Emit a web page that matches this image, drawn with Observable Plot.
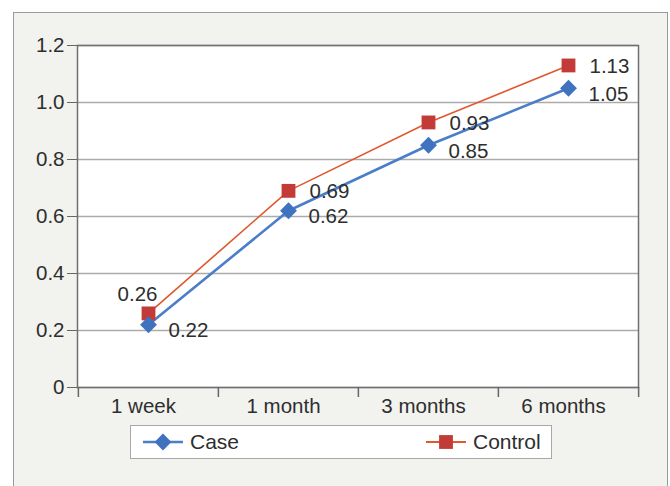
<!DOCTYPE html>
<html><head><meta charset="utf-8">
<script src="https://cdn.jsdelivr.net/npm/d3@7"></script>
<script src="https://cdn.jsdelivr.net/npm/@observablehq/plot@0.6"></script>
<style>
html,body{margin:0;padding:0;background:#fff;}
#wrap{position:relative;width:670px;height:486px;overflow:hidden;font-family:"Liberation Sans",Arial,sans-serif;}
#frame{position:absolute;left:13px;top:12px;width:655px;height:490px;background:#f2f2ef;border:1.5px solid #9a9a9a;box-sizing:border-box;}
#chart{position:absolute;left:0;top:0;}
#legend{position:absolute;left:130px;top:425px;width:422px;height:34px;background:#fff;border:1.5px solid #a8a8a8;box-sizing:border-box;}
#legend svg{position:absolute;left:0;top:0;}
</style>
</head><body>
<div id="wrap"><div id="frame"></div><div id="chart"></div><div id="legend"></div></div>
<script>
const categories = ["1 week", "1 month", "3 months", "6 months"];
const caseValues = [0.22, 0.62, 0.85, 1.05];
const controlValues = [0.26, 0.69, 0.93, 1.13];
const yTicks = [0, 0.2, 0.4, 0.6, 0.8, 1.0, 1.2];
const seriesNames = ["Case", "Control"];

const caseColor = "#3f73c0", caseLine = "#4a7ec8";
const controlColor = "#c23b36", controlLine = "#e0582e";
const textColor = "#2e2e2e";
const fs = 20.5;

const caseData = categories.map((c, i) => ({cat: c, value: caseValues[i], i}));
const controlData = categories.map((c, i) => ({cat: c, value: controlValues[i], i}));

const W = 670, H = 420, mL = 77, mR = 32, mT = 45, mB = 33;
const step = (W - mL - mR) / categories.length;
const fmt = d => d.toFixed(2);

const chart = Plot.plot({
  width: W, height: H, marginLeft: mL, marginRight: mR, marginTop: mT, marginBottom: mB,
  style: {background: "transparent", fontFamily: "'Liberation Sans', Arial, sans-serif", fontSize: fs + "px", color: textColor},
  x: {type: "point", domain: categories, padding: 0.5, label: null},
  y: {domain: [0, 1.2], label: null},
  marks: [
    Plot.frame({fill: "white", stroke: "none"}),
    Plot.gridY(yTicks, {stroke: "#ababab", strokeOpacity: 1, strokeWidth: 1.4}),
    Plot.frame({stroke: "#707070", strokeWidth: 1.5}),
    Plot.axisY({ticks: yTicks, label: null, tickSize: 10, tickPadding: 3, stroke: "#666", tickFormat: d => d === 0 ? "0" : d.toFixed(1), fill: textColor}),
    Plot.axisX({label: null, tickSize: 0, tickPadding: 11, fill: textColor, dx: -5}),
    Plot.axisX({label: null, tickSize: 10, stroke: "#666", strokeWidth: 1.5, dx: -step / 2, tickFormat: () => ""}),
    Plot.axisX({label: null, ticks: [categories[categories.length - 1]], tickSize: 10, stroke: "#666", strokeWidth: 1.5, dx: step / 2, tickFormat: () => ""}),
    Plot.line(controlData, {x: "cat", y: "value", stroke: controlLine, strokeWidth: 1.6}),
    Plot.line(caseData, {x: "cat", y: "value", stroke: caseLine, strokeWidth: 2.6}),
    Plot.dot(controlData, {x: "cat", y: "value", symbol: "square", r: 7.8, fill: controlColor, stroke: "none"}),
    Plot.dot(caseData, {x: "cat", y: "value", symbol: "diamond2", r: 7.6, fill: caseColor, stroke: "none"}),
    Plot.text(controlData, {filter: d => d.i === 0, x: "cat", y: "value", text: d => fmt(d.value), dx: -11, dy: -19, textAnchor: "middle", fill: textColor, fontSize: fs}),
    Plot.text(controlData, {filter: d => d.i > 0, x: "cat", y: "value", text: d => fmt(d.value), dx: 21, dy: 1, textAnchor: "start", fill: textColor, fontSize: fs}),
    Plot.text(caseData, {x: "cat", y: "value", text: d => fmt(d.value), dx: 20, dy: 6, textAnchor: "start", fill: textColor, fontSize: fs})
  ]
});
document.getElementById("chart").appendChild(chart);

// legend
const lg = d3.select("#legend").append("svg").attr("width", 422).attr("height", 34);
const items = [
  {name: seriesNames[0], x: 12, line: caseLine, color: caseColor, sym: d3.symbolDiamond2, size: Math.PI * 7.6 * 7.6, lw: 2.6},
  {name: seriesNames[1], x: 295, line: controlLine, color: controlColor, sym: d3.symbolSquare, size: Math.PI * 7.8 * 7.8, lw: 1.8}
];
const cy = 16;
items.forEach(it => {
  lg.append("line").attr("x1", it.x).attr("x2", it.x + 40).attr("y1", cy).attr("y2", cy).attr("stroke", it.line).attr("stroke-width", it.lw);
  lg.append("path").attr("d", d3.symbol(it.sym, it.size)()).attr("transform", `translate(${it.x + 20},${cy})`).attr("fill", it.color);
  lg.append("text").attr("x", it.x + 47).attr("y", cy).attr("dy", "0.35em").attr("fill", textColor)
    .style("font-family", "'Liberation Sans', Arial, sans-serif").style("font-size", "21px").text(it.name);
});
</script>
</body></html>
